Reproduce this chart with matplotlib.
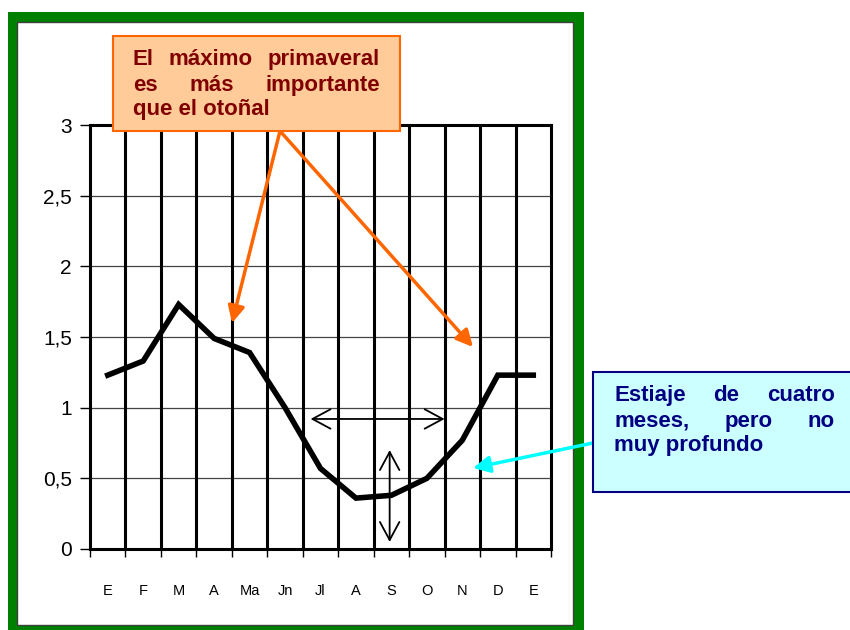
import matplotlib.pyplot as plt
from matplotlib.patches import Rectangle

plt.rcParams['font.family'] = ['Liberation Sans', 'DejaVu Sans']

W, H = 850, 630

months = ['E', 'F', 'M', 'A', 'Ma', 'Jn', 'Jl', 'A', 'S', 'O', 'N', 'D', 'E']
values = [1.23, 1.33, 1.73, 1.49, 1.39, 1.00, 0.57, 0.36, 0.38, 0.50, 0.77, 1.23, 1.23]
yticks = [0, 0.5, 1, 1.5, 2, 2.5, 3]
ytick_labels = ['0', '0,5', '1', '1,5', '2', '2,5', '3']

note_spring = ['El máximo primaveral', 'es más importante', 'que el otoñal']
note_summer = ['Estiaje de cuatro', 'meses, pero no', 'muy profundo']


def px(x, y):
    # pixel position (from top-left) -> figure fraction
    return x / W, 1 - y / H


fig = plt.figure(figsize=(W / 100, H / 100), dpi=100)

# green frame around the chart
fig.patches.append(Rectangle(px(8, 640), 576 / W, 628 / H, transform=fig.transFigure,
                             facecolor='#008000', edgecolor='none', zorder=-2))
fig.patches.append(Rectangle(px(17, 625), 556 / W, 603 / H, transform=fig.transFigure,
                             facecolor='white', edgecolor='#404040', lw=1, zorder=-1))

ax = fig.add_axes([90 / W, 1 - 549 / H, 461 / W, 424 / H])
ax.set_zorder(1)
ax.set_facecolor('none')
n = len(months)
x = list(range(n))
ax.set_xlim(-0.5, n - 0.5)
ax.set_ylim(0, 3)

# horizontal grid, thin
for v in yticks[1:-1]:
    ax.axhline(v, color='#444444', lw=0.9, zorder=1)
# vertical separators between months, heavy
for b in range(1, n):
    ax.axvline(b - 0.5, color='black', lw=2.2, zorder=1)
for s in ax.spines.values():
    s.set_linewidth(2.2)

ax.plot(x, values, color='black', lw=4, solid_joinstyle='miter', zorder=3)

ax.set_yticks(yticks)
ax.set_yticklabels(ytick_labels, fontsize=15)
ax.tick_params(axis='y', length=7, width=1, pad=6)
ax.set_xticks(x)
ax.set_xticklabels(months, fontsize=10.5)
ax.tick_params(axis='x', length=0, pad=25)
ax.set_xticks([b - 0.5 for b in range(n + 1)], minor=True)
ax.tick_params(axis='x', which='minor', length=6, width=1)

# double arrows for the dry-season length and depth
arr = dict(arrowstyle='<->,head_length=1.3,head_width=0.7', color='black', lw=1.3,
           shrinkA=0, shrinkB=0)
ax.annotate('', xy=(5.72, 0.92), xytext=(9.5, 0.92), arrowprops=arr, zorder=4)
ax.annotate('', xy=(7.95, 0.70), xytext=(7.95, 0.05), arrowprops=arr, zorder=4)


def justified(lines, x0, x1, ys, color, size):
    renderer = fig.canvas.get_renderer()
    for i, (line, y) in enumerate(zip(lines, ys)):
        if i == len(lines) - 1:
            fig.text(*px(x0, y), line, color=color, fontsize=size, fontweight='bold',
                     va='baseline', ha='left', zorder=6)
            continue
        words = line.split()
        texts = [fig.text(*px(x0, y), w, color=color, fontsize=size, fontweight='bold',
                          va='baseline', ha='left', zorder=6) for w in words]
        widths = [t.get_window_extent(renderer).width for t in texts]
        gap = (x1 - x0 - sum(widths)) / (len(words) - 1)
        pos = x0
        for t, w in zip(texts, widths):
            t.set_x(pos / W)
            pos += w + gap


# orange callout
fig.patches.append(Rectangle(px(113, 131), 287 / W, 95 / H, transform=fig.transFigure,
                             facecolor='#FFCC99', edgecolor='#FF6600', lw=1.5, zorder=5))
justified(note_spring, 133, 380, [65, 91, 115], '#800000', 16)

org = dict(arrowstyle='-|>,head_length=1.0,head_width=0.5', color='#FF6600', lw=2.5,
           shrinkA=0, shrinkB=0)
ax.annotate('', xy=px(232, 323), xytext=px(280, 131), xycoords='figure fraction',
            textcoords='figure fraction', arrowprops=org, zorder=5)
ax.annotate('', xy=px(473, 347), xytext=px(280, 131), xycoords='figure fraction',
            textcoords='figure fraction', arrowprops=org, zorder=5)

# cyan callout
fig.patches.append(Rectangle(px(593, 492), 262 / W, 120 / H, transform=fig.transFigure,
                             facecolor='#CCFFFF', edgecolor='#000080', lw=1.5, zorder=5))
justified(note_summer, 614, 835, [401, 427, 451], '#000080', 16)

cy = dict(arrowstyle='-|>,head_length=1.0,head_width=0.5', color='#00FFFF', lw=2.5,
          shrinkA=0, shrinkB=0)
ax.annotate('', xy=px(473, 468), xytext=px(593, 443), xycoords='figure fraction',
            textcoords='figure fraction', arrowprops=cy, zorder=5)

fig.savefig('out.png', dpi=100)
